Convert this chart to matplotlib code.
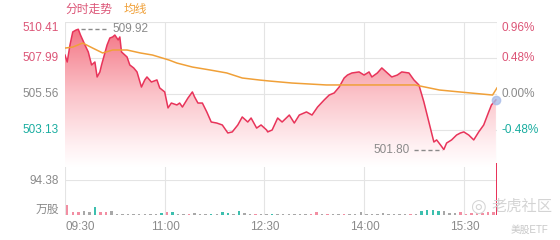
#!/usr/bin/env python3
"""
Intraday time-share chart (分时走势) with average line and volume bars
"""
import numpy as np
import matplotlib
matplotlib.use('Agg')
import matplotlib.pyplot as plt
from matplotlib.colors import LinearSegmentedColormap

plt.rcParams['font.family'] = ['Liberation Sans', 'Noto Sans CJK SC']

# minutes after 09:30 and last price
price_t = [0, 2, 4.5, 7, 10, 12, 14, 18, 21, 24, 27, 29, 31.5, 33, 38, 40.5, 43, 45, 48, 49.5,
           51, 56, 58.5, 62, 65, 69, 72, 74, 78, 83, 85.5, 90, 93, 96, 101, 103.5, 106, 111, 115,
           117, 120, 124, 128, 132, 137, 142, 147, 151, 156, 160, 165, 168, 173, 177, 182, 183,
           187, 192, 196, 202.5, 207, 211.5, 218, 223, 228, 234, 238.5, 243, 247.5, 252, 255,
           259, 265.5, 270, 274.5, 277, 282, 286, 291, 295, 300, 304, 310.5, 315, 319.5, 324,
           328.5, 333, 335.5, 339, 342, 344.5, 349, 353.5, 357, 360, 364.5, 369, 373.5, 378,
           382.5, 385, 389]
price_v = [508.18, 507.71, 508.86, 509.74, 509.87, 509.92, 509.53, 508.86, 508.39, 507.51, 507.71,
           506.70, 507.04, 507.51, 508.86, 509.33, 509.40, 509.53, 509.20, 509.40,
           508.39, 508.05, 507.51, 507.31, 507.04, 506.02, 506.50, 506.70, 506.36, 506.50, 505.96,
           505.69, 504.61, 504.94, 504.81, 504.94, 504.67, 505.28, 505.69,
           505.35, 504.94, 504.94, 504.34, 503.66, 503.59, 503.46, 502.92, 502.99, 503.46, 504.00,
           503.66, 503.93, 503.25, 503.46, 503.12, 502.99,
           503.12, 503.93, 503.66, 504.13, 503.59, 504.13, 504.34, 504.13, 504.67, 505.15, 505.48,
           505.62, 506.02, 506.63, 506.83,
           506.97, 507.04, 506.83, 507.04, 506.70, 506.97, 507.31, 506.97, 506.70, 506.83, 507.04,
           506.97, 506.50, 506.16, 505.01,
           503.66, 502.31, 502.45, 502.11, 501.80, 502.24, 502.45, 502.78, 502.92, 502.99, 502.78,
           502.45, 502.99, 503.46,
           504.34, 504.81, 505.15]

avg_t = [0, 7, 16, 25, 34, 43, 56, 68, 79, 94, 101, 115, 131, 146, 160, 176, 184, 205, 236,
         274, 316, 325, 338, 356, 386, 390]
avg_v = [508.65, 508.72, 508.99, 508.65, 508.32, 508.52, 508.52, 508.32, 508.18, 507.84, 507.64,
         507.37, 507.17, 506.97, 506.63, 506.49, 506.43, 506.29, 506.16,
         506.16, 506.16, 506.02, 505.82, 505.69, 505.48, 505.96]

# volume (万股) per 5 minutes, colour code: p = up, t = down, g = flat
vol_v = [27, 8, 7, 10, 8, 22, 8, 7, 11, 4, 4, 3, 4, 3, 4, 3, 4, 6, 8, 7,
         4, 3, 4, 6, 3, 3, 4, 4, 8, 5, 4, 11, 5, 3, 3, 3, 4, 3, 3, 2,
         3, 2, 3, 3, 4, 8, 3, 4, 3, 4, 3, 3, 4, 7, 3, 3, 3, 5, 3, 2,
         3, 2, 3, 3, 10, 13, 14, 12, 10, 6, 5, 8, 4, 6, 5, 6, 7, 8]
vol_c = "pppggtppgggggggggtpt" \
        "ggpgggtgttgtggpggtgg" \
        "ggggppgpggpgggggggg" \
        "gggpgttttgggppppppp"
close_vol = 140

last_price = 505.15
high_price, high_t = 509.92, 12
low_price, low_t = 501.80, 342

y_ticks = [510.41, 507.99, 505.56, 503.13]
pct_labels = ['0.96%', '0.48%', '0.00%', '-0.48%']
time_pos = [0, 90, 180, 270, 360]
time_labels = ['09:30', '11:00', '12:30', '14:00', '15:30']
vol_max = 94.38

RED = '#e8345a'
LRED = '#dc5577'
TEAL = '#1aada0'
GRAY = '#8a8a8a'
ORANGE = '#f0a038'
GRID = '#e4e4e4'
VCOL = {'p': '#f28ea2', 't': '#3dbfae', 'g': '#a8a8a8'}

W, H = 560, 240


def px(x, y):
    return x / W, 1 - y / H


fig = plt.figure(figsize=(5.6, 2.4), dpi=100)
ax = fig.add_axes([65 / W, 1 - 180 / H, 432 / W, 158 / H])
vax = fig.add_axes([65 / W, 1 - 215 / H, 432 / W, 35 / H])

y_top = 510.41
y_bot = y_top - 158 * 0.0675

for a in (ax, vax):
    a.set_xlim(0, 390)
    a.axis('off')
    for t in [0, 90, 180, 270, 360, 390]:
        a.axvline(t, color=GRID, lw=0.8, zorder=0)

ax.set_ylim(y_bot, y_top)
for y in y_ticks:
    ax.axhline(y, color=GRID, lw=0.8, zorder=0)

# gradient fill under the price line
cmap = LinearSegmentedColormap.from_list(
    'fade', [(0, '#ffffff'), (0.15, '#fff0f2'), (0.5, '#fbc3c9'), (1, '#f36d7d')])
grad = np.linspace(0, 1, 256).reshape(-1, 1)
img = ax.imshow(grad, cmap=cmap, origin='lower', aspect='auto',
                extent=[0, 390, 500.6, y_top], zorder=1)
poly = ax.fill_between(price_t, price_v, y_bot, color='none', lw=0)
path = poly.get_paths()[0]
img.set_clip_path(path, transform=ax.transData)

ax.plot(price_t, price_v, color=RED, lw=1.1, zorder=3)
ax.plot(avg_t, avg_v, color=ORANGE, lw=1.1, zorder=4)
ax.plot(price_t[-1], last_price, 'o', color='#a9bde8', ms=6, alpha=0.8, zorder=5,
        clip_on=False)

# high / low annotations
ax.plot([high_t + 2, high_t + 27], [high_price, high_price], ls=(0, (3, 2)), color=GRAY, lw=1)
ax.text(high_t + 31, high_price, f'{high_price:.2f}', color=GRAY, fontsize=8.5,
        va='center', ha='left')
ax.plot([low_t - 27, low_t - 2], [low_price, low_price], ls=(0, (3, 2)), color=GRAY, lw=1)
ax.text(low_t - 31, low_price, f'{low_price:.2f}', color=GRAY, fontsize=8.5,
        va='center', ha='right')

# volume bars
vax.set_ylim(0, vol_max)
vax.axhline(vol_max, color=GRID, lw=0.8, zorder=0)
vax.axhline(0, color='#d0d0d0', lw=0.8, zorder=0)
vt = np.arange(len(vol_v)) * 5 + 2
vax.bar(vt, vol_v, width=2.2, color=[VCOL[c] for c in vol_c], lw=0, zorder=2)
vax.bar([389.5], [close_vol], width=1.2, color=RED, lw=0, clip_on=False, zorder=3)

# axis labels
ylab_pos = [28, 58, 94, 130]
ylab_col = [LRED, LRED, GRAY, TEAL]
for v, p, c, y in zip(y_ticks, pct_labels, ylab_col, ylab_pos):
    fig.text(*px(59, y), f'{v:.2f}', color=c, fontsize=8.5, ha='right', va='center')
    fig.text(*px(502, y), p, color=c, fontsize=8.5, ha='left', va='center')
fig.text(*px(59, 181), f'{vol_max:.2f}', color=GRAY, fontsize=8.5, ha='right', va='center')
fig.text(*px(59, 210), '万股', color=GRAY, fontsize=8.5, ha='right', va='center')

for t, lab in zip(time_pos, time_labels):
    ha = 'left' if t == 0 else 'center'
    fig.text(*px(65 + t / 0.9, 227), lab, color=GRAY, fontsize=8.5, ha=ha, va='center')

fig.text(*px(65, 10), '分时走势', color=LRED, fontsize=8.5, ha='left', va='center')
fig.text(*px(124, 10), '均线', color=ORANGE, fontsize=8.5, ha='left', va='center')

# watermark
fig.text(*px(478, 207), '◎', color='#d4d4d4', fontsize=13, ha='center', va='center',
         family=['DejaVu Sans'])
fig.text(*px(491, 207), '老虎社区', color='#d4d4d4', fontsize=11, ha='left', va='center')
fig.text(*px(548, 230), '美股ETF', color='#c8c8c8', fontsize=7, ha='right', va='center')

fig.savefig('out.png', dpi=100)
plt.close(fig)
